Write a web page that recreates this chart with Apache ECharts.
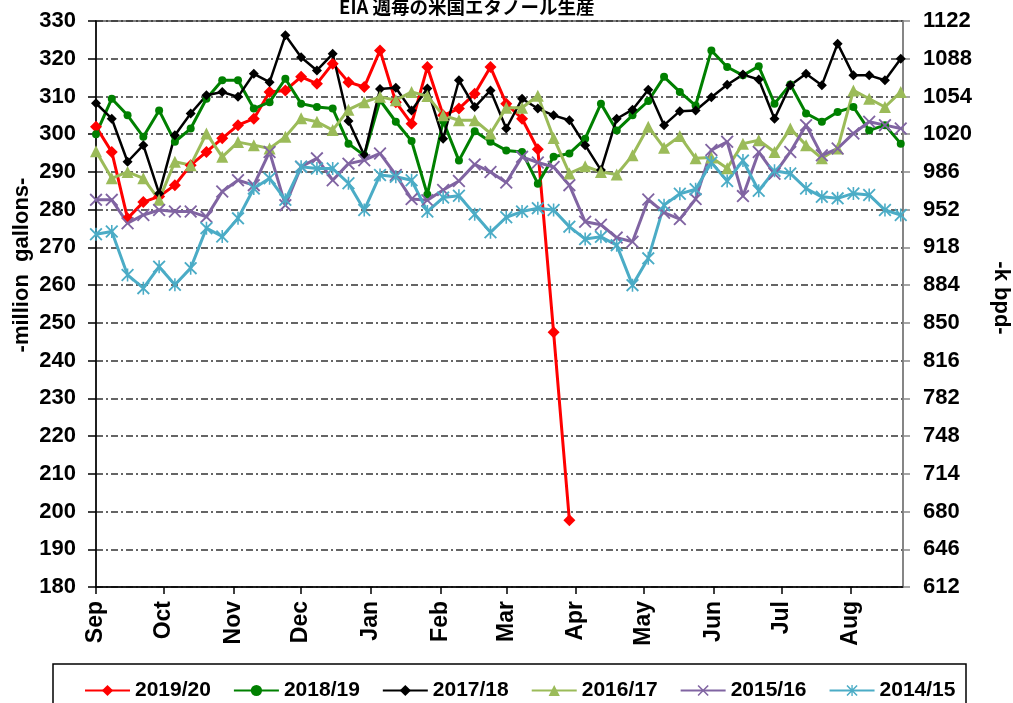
<!DOCTYPE html>
<html>
<head>
<meta charset="utf-8">
<script src="https://cdn.jsdelivr.net/npm/echarts@6/dist/echarts.min.js"></script>
<style>
  html, body { margin: 0; padding: 0; background: #fff; }
  #chart { width: 1013px; height: 703px; }
</style>
</head>
<body>
<div id="chart"></div>
<script>
// x positions: day of the season (Sep 1 = 0), one point per week
const monthDays = [0, 30, 61, 91, 122, 153, 182, 213, 243, 274, 304, 335]
const monthLabels = ['Sep', 'Oct', 'Nov', 'Dec', 'Jan', 'Feb', 'Mar', 'Apr', 'May', 'Jun', 'Jul', 'Aug']

// weekly production, million gallons
const s2019 = [302, 295.3, 277.7, 282, 283.5, 286.5, 291.8, 295.3, 298.9, 302.4, 304.1, 311.2, 311.6, 315.2, 313.4, 318.7,
  313.8, 312.5, 322.2, 308.5, 302.8, 317.8, 305, 306.8, 310.7, 317.8, 308.1, 304.1, 296, 247.5, 197.7]
const s2018 = [300, 309.4, 305, 299.3, 306.3, 298, 301.5, 309.4, 314.3, 314.3, 306.8, 308.5, 314.7, 308.1, 307.2, 306.8,
  297.5, 294.4, 309, 303.3, 298.2, 284, 303.5, 293, 300.8, 298, 295.7, 295.3, 286.9, 294, 294.9, 298.8,
  308.1, 301, 305, 308.8, 315.2, 311.2, 307.6, 322.2, 317.8, 315.6, 318, 308.1, 313.2, 305.5, 303.3, 305.9,
  307.2, 301, 302.4, 297.5]
const s2017 = [308.2, 304.1, 292.7, 297.1, 284.3, 299.7, 305.5, 310.3, 311.2, 309.9, 316, 313.8, 326.2, 320.4, 316.9, 321.3,
  303.5, 294.4, 312, 312.3, 306.3, 312.1, 298.8, 314.3, 307.2, 311.6, 301.5, 309.4, 306.8, 305, 303.7, 297.1,
  290.5, 304.1, 306.5, 311.8, 302.4, 306.1, 306.3, 309.8, 313.1, 315.8, 314.5, 304.1, 313, 316, 313, 324,
  315.6, 315.6, 314.3, 320]
const s2016 = [295.5, 288.3, 290, 288.3, 282.6, 292.7, 291.8, 300.2, 294, 297.9, 297.1, 296.2, 299.3, 304.2, 303.3, 301.1,
  306.5, 308.5, 309.9, 309, 311.2, 310.1, 305, 303.7, 303.7, 300.2, 307, 307, 310.2, 299, 289.6, 291.5,
  290, 289.3, 294.4, 302, 296.4, 299.5, 293.6, 293.8, 291, 297.5, 298.4, 295.3, 301.5, 297.1, 293.6, 296.2,
  311.6, 309.4, 307.2, 311.2]
const s2015 = [282.6, 282.6, 276.4, 278.6, 279.9, 279.5, 279.5, 278.1, 284.8, 287.8, 286.5, 295.3, 281.2, 291.4, 293.6, 287.8,
  292.2, 293.1, 294.9, 289.2, 282.8, 282.5, 285.2, 287.6, 292, 290, 287.2, 294, 292.5, 291.3, 286.5, 276.8,
  276, 272.6, 271.5, 282.7, 279.2, 277.5, 282.8, 295.8, 298, 283.6, 295.3, 289.5, 295.3, 302.4, 294.4, 296.2,
  300.2, 303.3, 302.4, 301.5]
const s2014 = [273.5, 274.2, 262.7, 259.2, 264.9, 260.1, 264.5, 275.1, 272.9, 277.7, 285.6, 288.3, 282.6, 291.4, 290.9, 290.9,
  287, 279.9, 289.2, 288.7, 287.8, 279.5, 283.2, 283.7, 278.8, 274, 278, 279.5, 280.4, 279.9, 275.5, 272.2,
  272.8, 270.6, 260, 267.1, 281.2, 284.2, 285.4, 292.5, 287.6, 293, 285, 290.3, 289.6, 285.6, 283.4, 283,
  284.3, 283.9, 279.9, 278.6]

const crossPath = 'path://M0,1L1,0L5,4L9,0L10,1L6,5L10,9L9,10L5,6L1,10L0,9L4,5Z'
const starPath = 'path://M0,1L1,0L5,4L9,0L10,1L6,5L10,9L9,10L5,6L1,10L0,9L4,5ZM4.4,0L5.6,0L5.6,10L4.4,10Z'

const font = 'Liberation Sans'

function weekly(values) {
  return values.map((v, i) => [i * 7, v])
}

function lineSeries(name, values, color, symbol, size, width) {
  return {
    name: name,
    type: 'line',
    data: weekly(values),
    symbol: symbol,
    symbolSize: size,
    showSymbol: true,
    lineStyle: { color: color, width: width },
    itemStyle: { color: color },
    emphasis: { disabled: true }
  }
}

const chart = echarts.init(document.getElementById('chart'))
chart.setOption({
  animation: false,
  textStyle: { fontFamily: font },
  title: {
    text: 'EIA 週毎の米国エタノール生産',
    left: 339,
    top: -2,
    padding: 0,
    textStyle: { fontFamily: 'Noto Sans CJK JP', fontSize: 18.5, fontWeight: 'bold', color: '#000' }
  },
  grid: {
    left: 96,
    right: 110,
    top: 21,
    bottom: 116,
    show: true,
    borderColor: '#555',
    borderWidth: 1.5
  },
  legend: {
    left: 79,
    top: 675,
    itemWidth: 45,
    itemHeight: 14,
    itemGap: 22,
    textStyle: { fontFamily: font, fontSize: 21, fontWeight: 'bold', color: '#000' }
  },
  graphic: [
    {
      type: 'rect',
      shape: { x: 53, y: 664, width: 913, height: 60 },
      style: { fill: 'none', stroke: '#000', lineWidth: 1.5 }
    },
    {
      type: 'text',
      x: 22,
      y: 265,
      rotation: Math.PI / 2,
      style: {
        text: '-million  gallons-',
        font: 'bold 22px "Liberation Sans"',
        fill: '#000',
        textAlign: 'center',
        textVerticalAlign: 'middle'
      }
    },
    {
      type: 'text',
      x: 1001,
      y: 298,
      rotation: -Math.PI / 2,
      style: {
        text: '-k bpd-',
        font: 'bold 22px "Liberation Sans"',
        fill: '#000',
        textAlign: 'center',
        textVerticalAlign: 'middle'
      }
    }
  ],
  xAxis: {
    type: 'value',
    min: 0,
    max: 358,
    axisLine: { lineStyle: { color: '#000', width: 1.5 } },
    axisTick: { customValues: monthDays, length: 7, lineStyle: { color: '#000', width: 1.5 } },
    axisLabel: {
      customValues: monthDays,
      rotate: 90,
      margin: 14,
      fontSize: 23,
      fontWeight: 'bold',
      color: '#000',
      formatter: v => monthLabels[monthDays.indexOf(v)]
    },
    splitLine: { show: false }
  },
  yAxis: [
    {
      type: 'value',
      min: 180,
      max: 330,
      interval: 10,
      axisLine: { show: true, lineStyle: { color: '#000', width: 1.5 } },
      axisTick: { show: true, length: 8, lineStyle: { color: '#000', width: 1.5 } },
      axisLabel: { fontSize: 22, fontWeight: 'bold', margin: 20, color: '#000' },
      splitLine: { show: true, lineStyle: { color: '#333', width: 1.5, type: [7, 3, 2, 3] } }
    },
    {
      type: 'value',
      position: 'right',
      min: 612,
      max: 1122,
      interval: 34,
      axisLine: { show: true, lineStyle: { color: '#888', width: 1.5 } },
      axisTick: { show: true, length: 7, lineStyle: { color: '#888', width: 1.5 } },
      axisLabel: { fontSize: 22, fontWeight: 'bold', margin: 20, color: '#000', formatter: v => String(v) },
      splitLine: { show: false }
    }
  ],
  series: [
    lineSeries('2019/20', s2019, '#ff0000', 'diamond', 12, 3),
    lineSeries('2018/19', s2018, '#008000', 'circle', 8, 3),
    lineSeries('2017/18', s2017, '#000000', 'diamond', 10, 2.5),
    lineSeries('2016/17', s2016, '#9bbb59', 'triangle', 12, 3),
    lineSeries('2015/16', s2015, '#8064a2', crossPath, 13, 3),
    lineSeries('2014/15', s2014, '#4bacc6', starPath, 13, 3)
  ]
})
</script>
</body>
</html>
